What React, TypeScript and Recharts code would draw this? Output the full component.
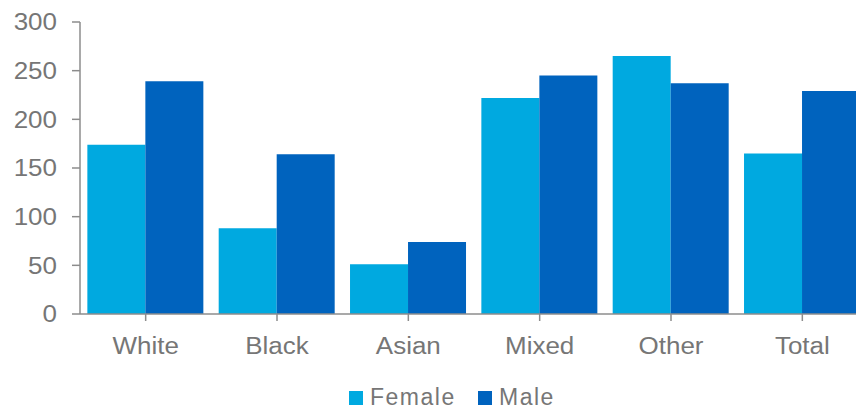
import React from 'react';
import { BarChart, Bar, XAxis, YAxis, Legend } from 'recharts';

const categories = ['White', 'Black', 'Asian', 'Mixed', 'Other', 'Total'];
const femaleValues = [174, 88, 51, 222, 265, 165];
const maleValues = [239, 164, 74, 245, 237, 229];
const yTicks = [0, 50, 100, 150, 200, 250, 300];

const data = categories.map((c, i) => ({ category: c, Female: femaleValues[i], Male: maleValues[i] }));

const FONT = '"Liberation Sans", Arial, sans-serif';
const TEXT = '#767676';
const AXIS = '#8c8c8c';
const SX = 1.13;
const FEMALE = '#00A9E0';
const MALE = '#0063BE';

const YTick = (props: any) => {
  const { x, y, payload } = props;
  return (
    <text
      transform={`translate(${x},${y}) scale(${SX},1)`}
      x={0}
      y={0}
      dy={8.2}
      textAnchor="end"
      fill={TEXT}
      fontSize={23}
      fontFamily={FONT}
    >
      {payload.value}
    </text>
  );
};

const XTick = (props: any) => {
  const { x, y, payload } = props;
  return (
    <text
      transform={`translate(${x},${y}) scale(${SX},1)`}
      x={0}
      y={0}
      dy={17}
      textAnchor="middle"
      fill={TEXT}
      fontSize={23}
      fontFamily={FONT}
    >
      {payload.value}
    </text>
  );
};

const LegendContent = (props: any) => {
  const { payload } = props;
  const lefts = [0, 129];
  return (
    <div style={{ position: 'relative', width: 220, height: 26 }}>
      {(payload || []).map((p: any, i: number) => (
        <div key={p.value} style={{ position: 'absolute', left: lefts[i], top: 0, height: 26 }}>
          <div style={{ position: 'absolute', left: 0, top: 7, width: 14, height: 14, background: p.color }} />
          <span
            style={{
              position: 'absolute',
              left: 21,
              top: 0,
              fontSize: 23,
              lineHeight: 'normal',
              color: TEXT,
              fontFamily: FONT,
              letterSpacing: '1.5px',
              whiteSpace: 'nowrap',
            }}
          >
            {p.value}
          </span>
        </div>
      ))}
    </div>
  );
};

export default function App() {
  return (
    <div style={{ position: 'absolute', left: 0, top: 0, width: 856, height: 410, overflow: 'hidden', background: '#fff' }}>
      <BarChart
        width={870}
        height={410}
        data={data}
        margin={{ top: 22, right: 2, left: 0, bottom: 0 }}
        barCategoryGap="5.6%"
        barGap={0}
      >
        <XAxis
          dataKey="category"
          height={70}
          tickSize={7}
          tickMargin={16}
          tick={<XTick />}
          axisLine={{ stroke: AXIS, strokeWidth: 1.5 }}
          tickLine={{ stroke: AXIS, strokeWidth: 1.5 }}
          interval={0}
        />
        <YAxis
          width={80}
          domain={[0, 300]}
          ticks={yTicks}
          tickSize={8}
          tickMargin={15}
          tick={<YTick />}
          axisLine={{ stroke: AXIS, strokeWidth: 1.5 }}
          tickLine={{ stroke: AXIS, strokeWidth: 1.5 }}
          interval={0}
        />
        <Legend
          verticalAlign="bottom"
          height={26}
          content={<LegendContent />}
          wrapperStyle={{ left: 349, top: 384, width: 220, height: 26 }}
        />
        <Bar dataKey="Female" fill={FEMALE} isAnimationActive={false} />
        <Bar dataKey="Male" fill={MALE} isAnimationActive={false} />
      </BarChart>
    </div>
  );
}
